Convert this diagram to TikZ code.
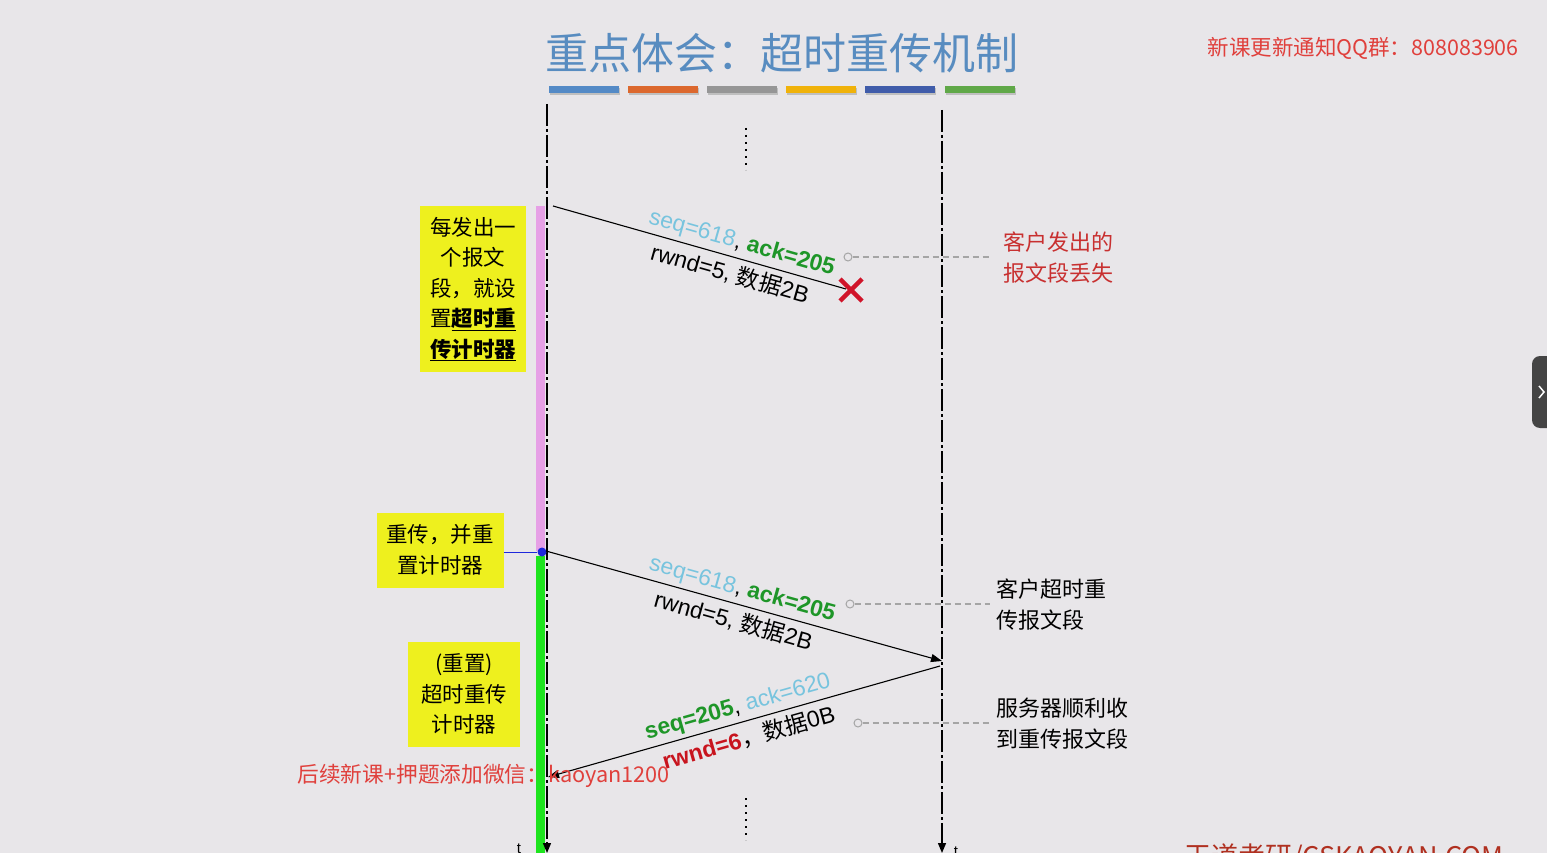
\documentclass[tikz,border=0pt]{standalone}
\usepackage{fontspec}
\setmainfont{Noto Sans CJK SC}
\newfontfamily\hv{Liberation Sans}
\usetikzlibrary{arrows.meta}
\definecolor{bg}{RGB}{232,230,233}
\definecolor{titleblue}{RGB}{88,140,192}
\definecolor{barA}{RGB}{84,138,198}
\definecolor{barB}{RGB}{220,104,46}
\definecolor{barC}{RGB}{150,150,150}
\definecolor{barD}{RGB}{240,178,10}
\definecolor{barE}{RGB}{64,92,170}
\definecolor{barF}{RGB}{96,168,72}
\definecolor{qqred}{RGB}{224,64,60}
\definecolor{notered}{RGB}{200,48,48}
\definecolor{boxyellow}{RGB}{238,240,30}
\definecolor{pinkbar}{RGB}{230,160,230}
\definecolor{greenbar}{RGB}{30,228,30}
\definecolor{seqblue}{RGB}{120,196,222}
\definecolor{ackgreen}{RGB}{30,150,40}
\definecolor{rwndred}{RGB}{200,20,30}
\definecolor{xred}{RGB}{208,20,42}
\definecolor{calloutgrey}{RGB}{165,165,165}
\definecolor{footred}{RGB}{176,48,32}
\definecolor{tabgrey}{RGB}{68,68,68}
\definecolor{dotblue}{RGB}{30,40,220}
\tikzset{
  lifeline/.style={line width=1.4pt, dash pattern=on 22pt off 3pt on 3pt off 3pt, -{Triangle[length=10pt,width=8pt]}},
  msg/.style={line width=1.1pt},
  msgarrow/.style={msg, -{Triangle[length=11pt,width=8pt]}},
  yellowbox/.style={fill=boxyellow, align=center, inner sep=0pt, font=\fontsize{21.5}{30.5}\selectfont},
  callout/.style={calloutgrey, line width=1.1pt, dash pattern=on 6pt off 4pt},
  calloutdot/.style={circle, draw=calloutgrey, line width=1pt, minimum size=8pt, inner sep=0pt},
  note/.style={anchor=west, align=left, font=\fontsize{22}{31}\selectfont},
  lbl/.style={font=\hv\fontsize{23}{25}\selectfont, sloped, inner sep=1pt},
  colourbar/.style={line width=7pt},
}
\begin{document}
\begin{tikzpicture}[x=1pt,y=-1pt]
\useasboundingbox (0,0) rectangle (1547,853);
\fill[bg] (0,0) rectangle (1547,853);

% title
\node[titleblue, font=\fontsize{43}{46}\selectfont] (title) at (782,53) {重点体会：超时重传机制};
\foreach \x/\c in {549/barA,628/barB,707/barC,786/barD,865/barE,945/barF}{
  \draw[colourbar, black!25] (\x+1,91.5) -- (\x+71,91.5);
  \draw[colourbar, \c] (\x,90) -- (\x+70,90);
}
\node[qqred, anchor=west, font=\fontsize{21.5}{24}\selectfont] (qq) at (1204,48) {新课更新通知QQ群：808083906};

% activation bars
\fill[pinkbar] (536,206) rectangle (545,551);
\fill[greenbar] (536,556) rectangle (545,853);

% lifelines
\coordinate (ltop) at (547,104);
\coordinate (lbot) at (547,853);
\coordinate (rtop) at (942,110);
\coordinate (rbot) at (942,853);
\draw[lifeline] (ltop) -- (lbot);
\draw[lifeline] (rtop) -- (rbot);
\node[font=\hv\fontsize{15}{16}\selectfont, anchor=base] (tl) at (519,853) {t};
\node[font=\hv\fontsize{15}{16}\selectfont, anchor=base] (tr) at (956,856) {t};

% vertical dots
\coordinate (d1a) at (746,128); \coordinate (d1b) at (746,170);
\coordinate (d2a) at (746,798); \coordinate (d2b) at (746,840);
\draw[line width=2pt, dash pattern=on 2pt off 5pt] (d1a) -- (d1b);
\draw[line width=2pt, dash pattern=on 2pt off 5pt] (d2a) -- (d2b);

% yellow boxes
\node[yellowbox, minimum width=106pt, minimum height=166pt] (b1) at (473,289)
  {每发出一\\个报文\\段，就设\\置\textbf{\underline{超时重}}\\\textbf{\underline{传计时器}}};
\node[yellowbox, minimum width=127pt, minimum height=75pt] (b2) at (440,550)
  {重传，并重\\置计时器};
\node[yellowbox, minimum width=112pt, minimum height=105pt] (b3) at (464,694)
  {(重置)\\超时重传\\计时器};

% message 1 (lost)
\coordinate (m1s) at (553,206);
\coordinate (m1e) at (846,289);
\draw[msg] (m1s) -- node[lbl, above=3pt, pos=0.63] {{\color{seqblue}seq=618}, {\bfseries\color{ackgreen}ack=205}}
                     node[lbl, below=4pt, pos=0.62] {rwnd=5, {\rmfamily 数据}2B} (m1e);
\coordinate (x1) at (840,279); \coordinate (x2) at (862,301);
\coordinate (x3) at (862,279); \coordinate (x4) at (840,301);
\draw[xred, line width=4.5pt] (x1) -- (x2);
\draw[xred, line width=4.5pt] (x3) -- (x4);

% blue pointer
\node[circle, fill=dotblue, minimum size=9pt, inner sep=0pt] (bd) at (542,552) {};
\draw[dotblue, line width=1pt] (b2.east |- bd) -- (bd);

% message 2 (retransmit)
\coordinate (m2s) at (546,551);
\coordinate (m2e) at (942,661);
\draw[msgarrow] (m2s) -- node[lbl, above=3pt, pos=0.485] {{\color{seqblue}seq=618}, {\bfseries\color{ackgreen}ack=205}}
                        node[lbl, below=4pt, pos=0.485] {rwnd=5, {\rmfamily 数据}2B} (m2e);

% message 3 (ack)
\coordinate (m3s) at (940,666);
\coordinate (m3e) at (548,777);
\draw[msgarrow, {Triangle[length=11pt,width=8pt]}-] (m3e) -- node[lbl, above=3pt, pos=0.495] {{\bfseries\color{ackgreen}seq=205}, {\color{seqblue}ack=620}}
                        node[lbl, below=4pt, pos=0.50] {{\bfseries\color{rwndred}rwnd=6}{\rmfamily ，数据}0B} (m3s);

% callouts
\node[calloutdot] (c1) at (848,257) {};
\coordinate (c1e) at (990,257);
\draw[callout] (c1) -- (c1e);
\node[note, notered] (n1) at (1000,258) {客户发出的\\报文段丢失};

\node[calloutdot] (c2) at (850,604) {};
\coordinate (c2e) at (990,604);
\draw[callout] (c2) -- (c2e);
\node[note] (n2) at (993,605) {客户超时重\\传报文段};

\node[calloutdot] (c3) at (858,723) {};
\coordinate (c3e) at (990,723);
\draw[callout] (c3) -- (c3e);
\node[note] (n3) at (993,724) {服务器顺利收\\到重传报文段};

% watermark texts
\node[qqred, anchor=west, font=\fontsize{21.7}{24}\selectfont] (wx) at (294,776) {后续新课+押题添加微信：kaoyan1200};
\node[footred, anchor=base west, font=\fontsize{27}{30}\selectfont] (foot) at (1181,866) {王道考研/CSKAOYAN.COM};

% side tab
\fill[tabgrey, rounded corners=8pt] (1532,356) rectangle (1562,428);
\coordinate (ch1) at (1539,386); \coordinate (ch2) at (1544,392); \coordinate (ch3) at (1539,398);
\draw[white, line width=1.5pt] (ch1) -- (ch2) -- (ch3);
\end{tikzpicture}
\end{document}
